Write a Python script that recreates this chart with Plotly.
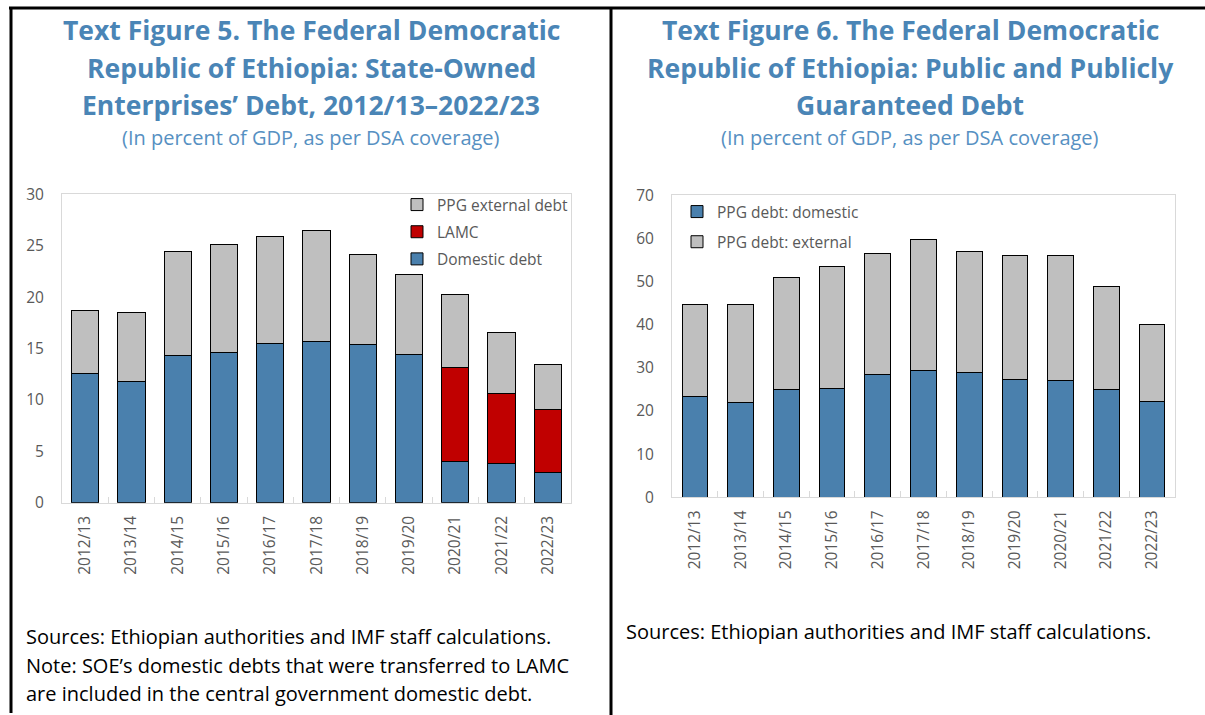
import plotly.graph_objects as go

W, H = 1205, 715

# ---- data -------------------------------------------------------------
years = ["2012/13", "2013/14", "2014/15", "2015/16", "2016/17", "2017/18",
         "2018/19", "2019/20", "2020/21", "2021/22", "2022/23"]

# Figure 5: SOE debt (percent of GDP)
soe_domestic = [12.6, 11.8, 14.3, 14.6, 15.5, 15.7, 15.4, 14.4, 4.0, 3.8, 2.9]
soe_lamc = [None, None, None, None, None, None, None, None, 9.2, 6.8, 6.2]
soe_external = [6.1, 6.7, 10.1, 10.5, 10.4, 10.8, 8.7, 7.8, 7.1, 6.0, 4.3]

# Figure 6: PPG debt (percent of GDP)
ppg_domestic = [23.3, 21.9, 24.9, 25.2, 28.5, 29.3, 28.9, 27.2, 27.1, 24.9, 22.1]
ppg_external = [21.3, 22.7, 26.1, 28.2, 28.1, 30.4, 28.0, 28.8, 28.9, 24.0, 18.0]

left_title = ["Text Figure 5. The Federal Democratic",
              "Republic of Ethiopia: State-Owned",
              "Enterprises’ Debt, 2012/13–2022/23"]
right_title = ["Text Figure 6. The Federal Democratic",
               "Republic of Ethiopia: Public and Publicly",
               "Guaranteed Debt"]
subtitle = "(In percent of GDP, as per DSA coverage)"
left_notes = ["Sources: Ethiopian authorities and IMF staff calculations.",
              "Note: SOE’s domestic debts that were transferred to LAMC",
              "are included in the central government domestic debt."]
right_notes = ["Sources: Ethiopian authorities and IMF staff calculations."]

# ---- styling ----------------------------------------------------------
FONT = "Open Sans"
BLUE = "#4a80ad"
GREY = "#bfbfbf"
RED = "#c00000"
TITLE_C = "#4a85b6"
SUB_C = "#5690c2"
TICK_C = "#595959"
FRAME_C = "#d9d9d9"


def px(x):
    return x / W


def py(y):
    return 1 - y / H


fig = go.Figure()

bar_line = dict(color="black", width=1)

fig.add_trace(go.Bar(x=years, y=soe_domestic, name="Domestic debt",
                     marker=dict(color=BLUE, line=bar_line),
                     xaxis="x", yaxis="y", legend="legend", legendgroup="a",
                     legendrank=3))
fig.add_trace(go.Bar(x=years, y=soe_lamc, name="LAMC",
                     marker=dict(color=RED, line=bar_line),
                     xaxis="x", yaxis="y", legend="legend", legendgroup="b",
                     legendrank=2))
fig.add_trace(go.Bar(x=years, y=soe_external, name="PPG external debt",
                     marker=dict(color=GREY, line=bar_line),
                     xaxis="x", yaxis="y", legend="legend", legendgroup="c",
                     legendrank=1))

fig.add_trace(go.Bar(x=years, y=ppg_domestic, name="PPG debt: domestic",
                     marker=dict(color=BLUE, line=bar_line),
                     xaxis="x2", yaxis="y2", legend="legend2", legendgroup="d",
                     width=0.56))
fig.add_trace(go.Bar(x=years, y=ppg_external, name="PPG debt: external",
                     marker=dict(color=GREY, line=bar_line),
                     xaxis="x2", yaxis="y2", legend="legend2", legendgroup="e",
                     width=0.56))

tickfont = dict(family=FONT, size=15.5, color=TICK_C)
legfont = dict(family=FONT, size=15.5, color=TICK_C)

xaxis_common = dict(type="category", tickangle=-90, tickfont=tickfont,
                    showline=True, linecolor=FRAME_C, linewidth=1, mirror=True,
                    ticks="inside", tickson="boundaries", ticklen=6,
                    tickcolor=FRAME_C, showgrid=False, zeroline=False,
                    ticklabelstandoff=6, range=[-0.5, 10.5])
yaxis_common = dict(tickfont=tickfont, showline=True, linecolor=FRAME_C,
                    linewidth=1, mirror=True, ticks="", showgrid=False,
                    zeroline=False, ticklabelstandoff=14)

fig.update_layout(
    width=W, height=H,
    margin=dict(l=0, r=0, t=0, b=0, autoexpand=False),
    paper_bgcolor="white", plot_bgcolor="white",
    barmode="stack", bargap=0.41,
    font=dict(family=FONT, color=TICK_C),
    xaxis=dict(domain=[px(62), px(571)], anchor="y", **xaxis_common),
    yaxis=dict(domain=[py(502.7), py(194.3)], anchor="x", range=[0, 30],
               dtick=5, **yaxis_common),
    xaxis2=dict(domain=[px(672), px(1175)], anchor="y2", **xaxis_common),
    yaxis2=dict(domain=[py(497.3), py(195.3)], anchor="x2", range=[0, 70],
                dtick=10, **yaxis_common),
    legend=dict(x=px(397), y=py(188), xanchor="left", yanchor="top",
                traceorder="grouped", tracegroupgap=4,
                font=legfont, bgcolor="rgba(0,0,0,0)"),
    legend2=dict(x=px(677), y=py(195), xanchor="left", yanchor="top",
                 traceorder="grouped", tracegroupgap=7,
                 font=legfont, bgcolor="rgba(0,0,0,0)"),
)

annotations = []
title_ys = [30, 68, 105]
for line, y in zip(left_title, title_ys):
    annotations.append(dict(text=f"<b>{line}</b>", x=px(311), y=py(y),
                            font=dict(family=FONT, size=26.5, color=TITLE_C)))
for line, y in zip(right_title, title_ys):
    annotations.append(dict(text=f"<b>{line}</b>", x=px(910), y=py(y),
                            font=dict(family=FONT, size=26.5, color=TITLE_C)))
annotations.append(dict(text=subtitle, x=px(311), y=py(138),
                        font=dict(family=FONT, size=20, color=SUB_C)))
annotations.append(dict(text=subtitle, x=px(910), y=py(138),
                        font=dict(family=FONT, size=20, color=SUB_C)))
for line, y in zip(left_notes, [636, 665, 693]):
    annotations.append(dict(text=line, x=px(24), y=py(y), xanchor="left",
                            font=dict(family=FONT, size=20, color="black")))
for line, y in zip(right_notes, [631]):
    annotations.append(dict(text=line, x=px(624), y=py(y), xanchor="left",
                            font=dict(family=FONT, size=20, color="black")))
for a in annotations:
    a.update(xref="paper", yref="paper", showarrow=False,
             yanchor="middle", xanchor=a.get("xanchor", "center"))
fig.update_layout(annotations=annotations)

# panel frame lines
frame = dict(type="line", xref="paper", yref="paper",
             line=dict(color="black", width=3))
fig.update_layout(shapes=[
    dict(frame, x0=px(9), x1=1, y0=py(8), y1=py(8)),
    dict(frame, x0=px(11), x1=px(11), y0=py(8), y1=py(713)),
    dict(frame, x0=px(611), x1=px(611), y0=py(8), y1=py(715)),
])

fig.write_html("out.html")
